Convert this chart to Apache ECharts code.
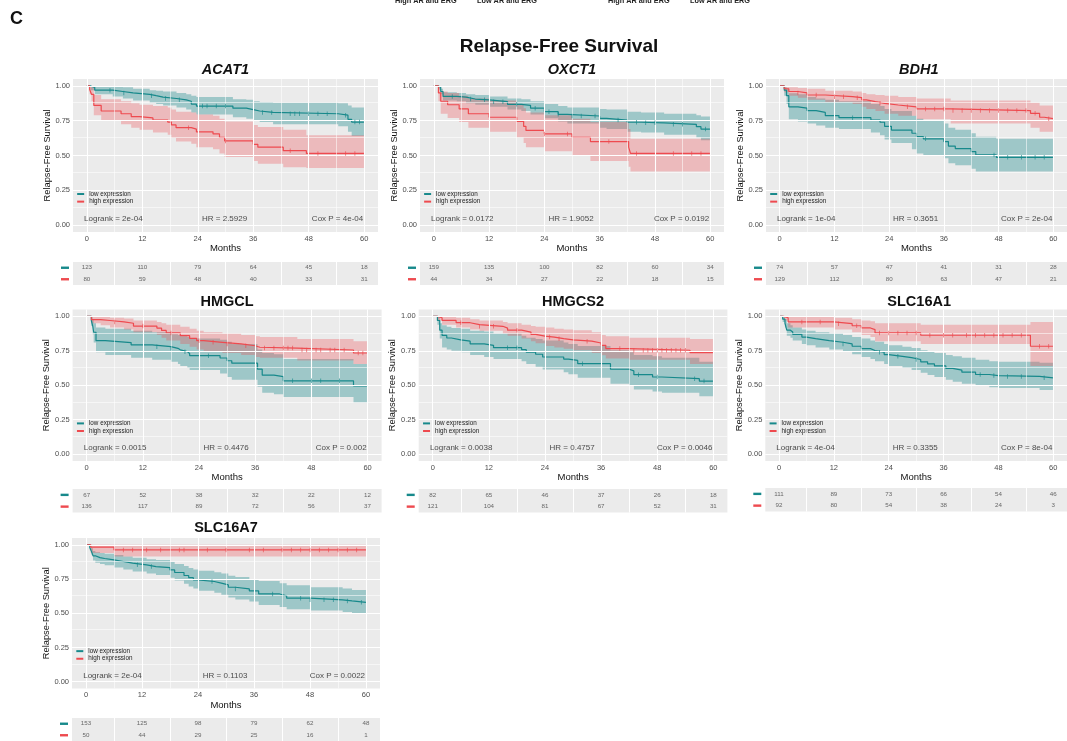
<!DOCTYPE html>
<html><head><meta charset="utf-8">
<script src="https://cdn.jsdelivr.net/npm/echarts@6/dist/echarts.min.js"></script>
<style>html,body{margin:0;padding:0;background:#fff}#c{width:1067px;height:741px}</style>
</head><body><div id="c"></div>
<script>
// ---------------- DATA ----------------
const genes = ['ACAT1','OXCT1','BDH1','HMGCL','HMGCS2','SLC16A1','SLC16A7'];
const italicGenes = ['ACAT1','OXCT1','BDH1'];
const xTicks = [0,12,24,36,48,60];
const xMinor = [6,18,30,42,54];
const yTicks = [0,0.25,0.5,0.75,1];
const yMinor = [0.125,0.375,0.625,0.875];
const groupNames = ['low expression','high expression'];
const topLabels = ['High AR and ERG','Low AR and ERG','High AR and ERG','Low AR and ERG'];

// each step: [month, survival, lower CI, upper CI]
const ACAT1_low = [[0,1,1,1],[0.8,0.99,0.97,1],[1.7,0.97,0.94,1],[5.6,0.96,0.925,0.995],[7.8,0.95,0.91,0.99],[10,0.94,0.895,0.98],[13.6,0.93,0.88,0.97],[15,0.92,0.87,0.965],[16.5,0.91,0.86,0.96],[19.4,0.90,0.845,0.95],[21.5,0.89,0.83,0.94],[22.6,0.87,0.81,0.93],[23.7,0.855,0.795,0.92],[31.6,0.84,0.775,0.905],[34.5,0.83,0.765,0.90],[36,0.82,0.75,0.89],[37.4,0.81,0.74,0.885],[40.3,0.80,0.725,0.88],[54.4,0.79,0.71,0.875],[56.5,0.76,0.67,0.86],[57.3,0.74,0.64,0.845],[60,0.74,0.64,0.845]];
const ACAT1_high = [[0,1,1,1],[0.6,0.975,0.94,1],[1,0.94,0.89,0.99],[1.5,0.86,0.79,0.935],[3.1,0.82,0.75,0.905],[7.4,0.80,0.725,0.89],[9.6,0.78,0.70,0.875],[11.4,0.77,0.685,0.865],[14.3,0.755,0.665,0.855],[17.5,0.74,0.65,0.845],[18.3,0.72,0.625,0.83],[19.3,0.70,0.60,0.815],[22.6,0.69,0.585,0.81],[23.7,0.67,0.56,0.795],[27.3,0.655,0.545,0.785],[28.7,0.63,0.515,0.765],[29.8,0.605,0.49,0.745],[36,0.58,0.46,0.72],[37,0.56,0.44,0.705],[42.5,0.535,0.415,0.685],[47.5,0.515,0.41,0.645],[60,0.515,0.41,0.645]];
const ACAT1_low_cens = [5,8,14,17,20,25,26,28,30,38,40,44,45,46,48,50,52,56,58,59];
const ACAT1_high_cens = [22,30,44,50,56,58];
const ACAT1_risk_low = [123,110,79,64,45,18];
const ACAT1_risk_high = [80,59,48,40,33,31];
const ACAT1_stats = ['Logrank = 2e-04','HR = 2.5929','Cox P = 4e-04'];

const OXCT1_low = [[0,1,1,1],[1,0.99,0.975,1],[1.5,0.96,0.94,0.98],[2,0.925,0.895,0.955],[5,0.92,0.89,0.95],[7,0.906,0.875,0.94],[9,0.90,0.865,0.935],[12,0.887,0.85,0.925],[16,0.868,0.83,0.91],[19,0.86,0.82,0.905],[21,0.84,0.795,0.89],[24,0.815,0.767,0.87],[27,0.796,0.745,0.855],[29,0.784,0.73,0.845],[36,0.767,0.70,0.835],[37.5,0.755,0.69,0.83],[42,0.739,0.67,0.815],[45,0.735,0.665,0.81],[50,0.724,0.65,0.80],[57,0.707,0.63,0.79],[58,0.69,0.61,0.78],[60,0.69,0.61,0.78]];
const OXCT1_high = [[0,1,1,1],[1,0.95,0.89,1],[1.5,0.89,0.80,0.96],[3,0.865,0.77,0.95],[5.5,0.835,0.74,0.93],[7.5,0.80,0.70,0.91],[12,0.775,0.67,0.895],[18,0.746,0.63,0.87],[19.5,0.71,0.59,0.84],[20,0.68,0.56,0.81],[24,0.655,0.53,0.79],[30,0.63,0.50,0.765],[34,0.60,0.46,0.74],[42.3,0.56,0.42,0.69],[42.7,0.515,0.385,0.62],[60,0.515,0.385,0.62]];
const OXCT1_low_cens = [4,8,11,13,15,18,22,25,27,30,32,35,40,44,46,48,52,54,59];
const OXCT1_high_cens = [24,29,38,44,52,56,58];
const OXCT1_risk_low = [159,135,100,82,60,34];
const OXCT1_risk_high = [44,34,27,22,18,15];
const OXCT1_stats = ['Logrank = 0.0172','HR = 1.9052','Cox P = 0.0192'];

const BDH1_low = [[0,1,1,1],[1,0.97,0.93,1],[1.5,0.93,0.87,0.98],[2,0.85,0.76,0.947],[4,0.84,0.745,0.94],[6,0.823,0.73,0.92],[8,0.81,0.715,0.91],[10,0.787,0.70,0.90],[13,0.772,0.69,0.89],[20,0.755,0.665,0.87],[22,0.739,0.645,0.855],[23,0.71,0.615,0.835],[24.5,0.683,0.59,0.82],[29,0.66,0.545,0.785],[30,0.635,0.515,0.765],[31.5,0.62,0.50,0.75],[36,0.60,0.48,0.73],[37,0.568,0.445,0.70],[38.5,0.55,0.43,0.685],[42,0.528,0.405,0.66],[43,0.504,0.385,0.635],[47.5,0.487,0.385,0.62],[60,0.487,0.385,0.62]];
const BDH1_high = [[0,1,1,1],[1,0.98,0.955,1],[2,0.96,0.93,0.99],[4,0.95,0.915,0.985],[6,0.935,0.90,0.98],[10,0.923,0.885,0.965],[16,0.916,0.87,0.96],[18,0.90,0.85,0.95],[19,0.887,0.835,0.94],[21,0.875,0.82,0.935],[23,0.863,0.80,0.93],[26,0.85,0.785,0.92],[30,0.835,0.76,0.91],[37.5,0.823,0.73,0.895],[55,0.803,0.70,0.88],[57,0.775,0.67,0.86],[58,0.765,0.67,0.86],[60,0.765,0.67,0.86]];
const BDH1_low_cens = [16,32,47,50,53,56,58];
const BDH1_high_cens = [4,8,12,14,17,22,28,32,34,36,38,40,42,44,46,48,50,52,54,56,59];
const BDH1_risk_low = [74,57,47,41,31,28];
const BDH1_risk_high = [129,112,80,63,47,21];
const BDH1_stats = ['Logrank = 1e-04','HR = 0.3651','Cox P = 2e-04'];

const HMGCL_low = [[0,1,1,1],[1,0.97,0.93,1],[1.3,0.93,0.87,0.98],[1.5,0.885,0.81,0.95],[2,0.824,0.74,0.92],[4,0.81,0.72,0.91],[9.5,0.793,0.70,0.895],[14,0.78,0.685,0.885],[18,0.768,0.67,0.87],[19.5,0.757,0.655,0.865],[20,0.744,0.64,0.855],[21.5,0.73,0.625,0.85],[22,0.715,0.61,0.84],[28.5,0.698,0.585,0.83],[30,0.678,0.56,0.815],[31,0.66,0.54,0.80],[36.5,0.617,0.49,0.76],[37.5,0.573,0.445,0.735],[40,0.563,0.435,0.725],[42,0.532,0.415,0.69],[57,0.495,0.375,0.655],[60,0.495,0.375,0.655]];
const HMGCL_high = [[0,1,1,1],[1,0.976,0.95,1],[3,0.97,0.935,1],[5,0.96,0.92,0.99],[8,0.95,0.905,0.985],[10,0.93,0.885,0.97],[15,0.915,0.865,0.96],[16,0.898,0.845,0.95],[17,0.88,0.825,0.94],[20,0.86,0.80,0.925],[22,0.84,0.78,0.91],[23.5,0.824,0.76,0.895],[25,0.812,0.745,0.885],[29,0.80,0.735,0.875],[33,0.787,0.72,0.865],[36,0.776,0.705,0.855],[37,0.77,0.70,0.85],[45,0.756,0.68,0.835],[57,0.734,0.655,0.82],[60,0.734,0.655,0.82]];
const HMGCL_low_cens = [15,18,21,26,44,48,50,54];
const HMGCL_high_cens = [6,12,18,24,27,30,34,38,40,42,43,44,46,47,49,50,52,53,55,58,59];
const HMGCL_risk_low = [67,52,38,32,22,12];
const HMGCL_risk_high = [136,117,89,72,56,37];
const HMGCL_stats = ['Logrank = 0.0015','HR = 0.4476','Cox P = 0.002'];

const HMGCS2_low = [[0,1,1,1],[1,0.97,0.94,1],[1.5,0.90,0.84,0.95],[2,0.862,0.775,0.935],[3,0.843,0.76,0.925],[4,0.83,0.75,0.915],[6,0.82,0.74,0.91],[8,0.80,0.72,0.895],[11,0.79,0.705,0.89],[13,0.773,0.69,0.875],[19,0.758,0.675,0.86],[20,0.74,0.655,0.845],[22,0.725,0.635,0.835],[23.5,0.705,0.615,0.825],[28,0.69,0.595,0.81],[29,0.68,0.58,0.80],[31,0.657,0.555,0.785],[38,0.616,0.51,0.755],[42,0.604,0.495,0.74],[43,0.577,0.47,0.72],[47,0.56,0.455,0.71],[49,0.548,0.445,0.70],[57,0.53,0.42,0.67],[60,0.53,0.42,0.67]];
const HMGCS2_high = [[0,1,1,1],[1,0.99,0.97,1],[2,0.971,0.94,1],[5,0.954,0.92,0.99],[8,0.94,0.905,0.98],[10,0.928,0.895,0.97],[15,0.915,0.875,0.96],[16,0.90,0.86,0.95],[19,0.886,0.84,0.94],[21,0.87,0.82,0.93],[22,0.857,0.805,0.925],[24,0.85,0.785,0.92],[26,0.838,0.775,0.91],[28,0.83,0.765,0.905],[30,0.82,0.754,0.90],[34,0.807,0.735,0.885],[36,0.79,0.717,0.865],[37,0.766,0.695,0.855],[42,0.754,0.685,0.845],[55,0.737,0.655,0.835],[60,0.737,0.655,0.835]];
const HMGCS2_low_cens = [16,18,32,44,48,56,58];
const HMGCS2_high_cens = [6,10,13,18,25,27,33,40,43,45,46,47,48,49,50,51,52,53,54];
const HMGCS2_risk_low = [82,65,46,37,26,18];
const HMGCS2_risk_high = [121,104,81,67,52,31];
const HMGCS2_stats = ['Logrank = 0.0038','HR = 0.4757','Cox P = 0.0046'];

const SLC16A1_low = [[0,1,1,1],[0.8,0.98,0.96,1],[1.3,0.95,0.92,0.98],[1.7,0.90,0.86,0.95],[2.5,0.887,0.845,0.935],[3,0.87,0.825,0.92],[5,0.85,0.80,0.905],[6,0.838,0.79,0.895],[8,0.824,0.775,0.885],[11,0.812,0.76,0.875],[14,0.80,0.745,0.865],[16,0.783,0.725,0.85],[18,0.766,0.705,0.84],[20,0.752,0.69,0.825],[21,0.74,0.675,0.815],[23,0.723,0.655,0.80],[24,0.71,0.64,0.79],[27,0.70,0.625,0.78],[29,0.687,0.61,0.77],[31,0.67,0.59,0.755],[32.5,0.655,0.575,0.745],[34,0.64,0.56,0.735],[36.5,0.622,0.54,0.72],[38,0.61,0.525,0.71],[40,0.595,0.51,0.70],[43,0.578,0.495,0.685],[46,0.57,0.485,0.675],[48,0.564,0.48,0.67],[57,0.554,0.465,0.663],[60,0.554,0.465,0.663]];
const SLC16A1_high = [[0,1,1,1],[1,0.99,0.97,1],[2,0.96,0.92,1],[12,0.947,0.905,0.99],[16,0.932,0.885,0.98],[18,0.916,0.865,0.97],[20,0.904,0.85,0.965],[21,0.88,0.82,0.95],[31,0.863,0.80,0.94],[55,0.783,0.64,0.96],[60,0.783,0.64,0.96]];
const SLC16A1_low_cens = [14,22,26,30,44,47,50,53,58];
const SLC16A1_high_cens = [5,9,13,17,22,24,26,28,30,33,36,38,41,43,45,47,49,51,53,57,59];
const SLC16A1_risk_low = [111,89,73,66,54,46];
const SLC16A1_risk_high = [92,80,54,38,24,3];
const SLC16A1_stats = ['Logrank = 4e-04','HR = 0.3355','Cox P = 8e-04'];

const SLC16A7_low = [[0,1,1,1],[0.8,0.98,0.96,1],[1.2,0.95,0.925,0.975],[1.5,0.92,0.885,0.955],[2,0.907,0.87,0.945],[3,0.90,0.86,0.94],[4,0.89,0.85,0.935],[6,0.878,0.835,0.925],[8,0.866,0.82,0.915],[10,0.854,0.805,0.905],[13,0.841,0.79,0.895],[15,0.834,0.78,0.89],[18,0.817,0.76,0.875],[19,0.798,0.74,0.86],[21,0.776,0.715,0.845],[22,0.76,0.695,0.83],[23,0.744,0.68,0.82],[24,0.732,0.665,0.81],[27.5,0.72,0.65,0.80],[29,0.707,0.635,0.79],[30.5,0.69,0.615,0.775],[32,0.678,0.60,0.765],[35,0.663,0.585,0.75],[37,0.641,0.56,0.735],[41.5,0.627,0.545,0.72],[43,0.61,0.53,0.705],[48,0.598,0.52,0.69],[55,0.59,0.51,0.68],[57,0.58,0.50,0.67],[60,0.58,0.50,0.67]];
const SLC16A7_high = [[0,1,1,1],[1,0.983,0.94,1],[6,0.963,0.915,1],[60,0.963,0.915,1]];
const SLC16A7_low_cens = [11,14,27,32,40,46,48,51,53,56,59];
const SLC16A7_high_cens = [8,10,13,16,20,21,26,30,35,38,42,44,46,48,50,52,54,56,58];
const SLC16A7_risk_low = [153,125,98,79,62,48];
const SLC16A7_risk_high = [50,44,29,25,16,1];
const SLC16A7_stats = ['Logrank = 2e-04','HR = 0.1103','Cox P = 0.0022'];

// lookup table built from the arrays above
const DATA = {
  ACAT1:{low:ACAT1_low,high:ACAT1_high,lowC:ACAT1_low_cens,highC:ACAT1_high_cens,rLow:ACAT1_risk_low,rHigh:ACAT1_risk_high,stats:ACAT1_stats},
  OXCT1:{low:OXCT1_low,high:OXCT1_high,lowC:OXCT1_low_cens,highC:OXCT1_high_cens,rLow:OXCT1_risk_low,rHigh:OXCT1_risk_high,stats:OXCT1_stats},
  BDH1:{low:BDH1_low,high:BDH1_high,lowC:BDH1_low_cens,highC:BDH1_high_cens,rLow:BDH1_risk_low,rHigh:BDH1_risk_high,stats:BDH1_stats},
  HMGCL:{low:HMGCL_low,high:HMGCL_high,lowC:HMGCL_low_cens,highC:HMGCL_high_cens,rLow:HMGCL_risk_low,rHigh:HMGCL_risk_high,stats:HMGCL_stats},
  HMGCS2:{low:HMGCS2_low,high:HMGCS2_high,lowC:HMGCS2_low_cens,highC:HMGCS2_high_cens,rLow:HMGCS2_risk_low,rHigh:HMGCS2_risk_high,stats:HMGCS2_stats},
  SLC16A1:{low:SLC16A1_low,high:SLC16A1_high,lowC:SLC16A1_low_cens,highC:SLC16A1_high_cens,rLow:SLC16A1_risk_low,rHigh:SLC16A1_risk_high,stats:SLC16A1_stats},
  SLC16A7:{low:SLC16A7_low,high:SLC16A7_high,lowC:SLC16A7_low_cens,highC:SLC16A7_high_cens,rLow:SLC16A7_risk_low,rHigh:SLC16A7_risk_high,stats:SLC16A7_stats}
};

// ---------------- LAYOUT / STYLE ----------------
const LAYOUT = [
  {left:73,    top:79,    w:305,   h:153,   tTop:262, tH:23,   titleY:70},
  {left:420,   top:79,    w:304,   h:153,   tTop:262, tH:23,   titleY:70},
  {left:766,   top:79,    w:305.5, h:153,   tTop:262, tH:23,   titleY:70},
  {left:72.6,  top:309.5, w:309,   h:151.5, tTop:489, tH:23.5, titleY:301.5},
  {left:418.7, top:309.5, w:308.7, h:151.5, tTop:489, tH:23.5, titleY:301.5},
  {left:765.3, top:309.5, w:307.7, h:151.5, tTop:488, tH:23.5, titleY:301.5},
  {left:72,    top:538,   w:308,   h:150.5, tTop:718, tH:23.5, titleY:527.5}
];
const TEAL = '#17898B', RED = '#EE4A4F';
const TEAL_BAND = 'rgba(23,137,139,0.36)', RED_BAND = 'rgba(238,74,79,0.30)';
const FONT = '"Liberation Sans", Arial, Helvetica, sans-serif';
const PANEL_BG = '#EBEBEB';

function survAt(pts, t){ let s = pts[0][1]; for (const p of pts){ if (p[0] <= t) s = p[1]; else break; } return s; }

function bandSeries(pts, fill, idx){
  return {
    type:'custom', xAxisIndex:idx, yAxisIndex:idx, z:2, silent:true, clip:true, data:[0],
    renderItem:(params, api) => {
      const up = [], lo = [];
      for (let i = 0; i < pts.length; i++){
        const t = pts[i][0], tn = i < pts.length-1 ? pts[i+1][0] : t;
        up.push(api.coord([t, pts[i][3]])); up.push(api.coord([tn, pts[i][3]]));
        lo.push(api.coord([t, pts[i][2]])); lo.push(api.coord([tn, pts[i][2]]));
      }
      return {type:'polygon', shape:{points: up.concat(lo.reverse())}, style:{fill:fill}};
    }
  };
}

function txt(x, y, text, size, weight, style, align, color){
  return {type:'text', x:x, y:y, silent:true, style:{text:text, fontSize:size, fontWeight:weight, fontStyle:style,
    fontFamily:FONT, fill:color || '#111', textAlign:align, align:align, textVerticalAlign:'middle', verticalAlign:'middle'}};
}

const grids = [], xAxes = [], yAxes = [], series = [], legends = [], graphics = [];

graphics.push(txt(10, 19.5, 'C', 18, 'bold', 'normal', 'left'));
graphics.push(txt(559, 47, 'Relapse-Free Survival', 19, 'bold', 'normal', 'center'));
[395, 477, 608, 690].forEach((x, k) => graphics.push(txt(x, 0.5, topLabels[k], 7.3, 'bold', 'normal', 'left', '#222')));

genes.forEach((g, i) => {
  const L = LAYOUT[i], D = DATA[g];
  const gp = grids.length, gt = gp + 1;
  const x0px = L.left + L.w * 3 / 66;
  grids.push({left:L.left, top:L.top, width:L.w, height:L.h, show:true, backgroundColor:PANEL_BG, borderWidth:0});
  grids.push({left:L.left, top:L.tTop, width:L.w, height:L.tH, show:true, backgroundColor:PANEL_BG, borderWidth:0});

  xAxes.push({gridIndex:gp, type:'value', min:-3, max:63,
    axisLine:{show:false},
    axisTick:{show:true, customValues:xTicks, length:2, lineStyle:{color:'#555', width:0.8}},
    axisLabel:{customValues:xTicks, fontSize:7.5, color:'#4D4D4D', margin:2.5, fontFamily:FONT},
    splitLine:{show:false},
    name:'Months', nameLocation:'middle', nameGap:9.5, nameTextStyle:{fontSize:9.5, color:'#111', fontFamily:FONT}});
  xAxes.push({gridIndex:gt, type:'value', min:-3, max:63, show:false, splitLine:{show:false}});

  yAxes.push({gridIndex:gp, type:'value', min:-0.05, max:1.05,
    axisLine:{show:false},
    axisTick:{show:true, customValues:yTicks, length:2, lineStyle:{color:'#555', width:0.8}},
    axisLabel:{customValues:yTicks, fontSize:7.5, color:'#4D4D4D', margin:3, fontFamily:FONT, formatter:v => v.toFixed(2)},
    splitLine:{show:false},
    name:'Relapse-Free Survival', nameLocation:'middle', nameGap:15.5, nameRotate:90,
    nameTextStyle:{fontSize:9.3, color:'#111', fontFamily:FONT}});
  yAxes.push({gridIndex:gt, type:'category', data:['high','low'],
    axisLine:{show:false}, axisTick:{show:false}, splitLine:{show:false},
    axisLabel:{show:true, interval:0, margin:4, formatter:v => '{' + v + '| }',
      rich:{low:{width:8, height:2.4, fontSize:1, lineHeight:2.4, backgroundColor:TEAL},
            high:{width:8, height:2.4, fontSize:1, lineHeight:2.4, backgroundColor:RED}}}});

  // panel grid lines
  const gl = [];
  xTicks.forEach(v => gl.push({xAxis:v, lineStyle:{width:1.1}}));
  xMinor.forEach(v => gl.push({xAxis:v, lineStyle:{width:0.55}}));
  yTicks.forEach(v => gl.push({yAxis:v, lineStyle:{width:1.1}}));
  yMinor.forEach(v => gl.push({yAxis:v, lineStyle:{width:0.55}}));
  series.push({type:'line', xAxisIndex:gp, yAxisIndex:gp, data:[], z:1, silent:true,
    markLine:{silent:true, symbol:['none','none'], label:{show:false}, animation:false,
      lineStyle:{color:'#FFFFFF', type:'solid'}, data:gl}});
  // table grid lines
  series.push({type:'line', xAxisIndex:gt, yAxisIndex:gt, data:[], z:1, silent:true,
    markLine:{silent:true, symbol:['none','none'], label:{show:false}, animation:false,
      lineStyle:{color:'#FFFFFF', type:'solid', width:1}, data:xMinor.map(v => ({xAxis:v}))}});

  // confidence bands
  series.push(bandSeries(D.low, TEAL_BAND, gp));
  series.push(bandSeries(D.high, RED_BAND, gp));

  // survival step curves
  series.push({type:'line', name:groupNames[0], xAxisIndex:gp, yAxisIndex:gp, step:'end', z:4,
    showSymbol:false, symbol:'none', color:TEAL, lineStyle:{width:1.2, color:TEAL},
    data:D.low.map(p => [p[0], p[1]])});
  series.push({type:'line', name:groupNames[1], xAxisIndex:gp, yAxisIndex:gp, step:'end', z:4,
    showSymbol:false, symbol:'none', color:RED, lineStyle:{width:1.2, color:RED},
    data:D.high.map(p => [p[0], p[1]])});

  // censor marks
  series.push({type:'scatter', xAxisIndex:gp, yAxisIndex:gp, z:5, silent:true, symbol:'rect', symbolSize:[0.8,4.5],
    itemStyle:{color:TEAL}, data:D.lowC.map(t => [t, survAt(D.low, t)])});
  series.push({type:'scatter', xAxisIndex:gp, yAxisIndex:gp, z:5, silent:true, symbol:'rect', symbolSize:[0.8,4.5],
    itemStyle:{color:RED}, data:D.highC.map(t => [t, survAt(D.high, t)])});

  // statistics text
  series.push({type:'scatter', xAxisIndex:gp, yAxisIndex:gp, z:6, silent:true, symbolSize:0.1,
    itemStyle:{color:'rgba(0,0,0,0)'},
    label:{show:true, position:'inside', fontSize:8, color:'#222', fontFamily:FONT, verticalAlign:'middle'},
    data:[
      {value:[-0.6, 0.045], label:{formatter:D.stats[0], align:'left'}},
      {value:[29.8, 0.045], label:{formatter:D.stats[1], align:'center'}},
      {value:[59.8, 0.045], label:{formatter:D.stats[2], align:'right'}}
    ]});

  // number at risk table
  series.push({type:'scatter', xAxisIndex:gt, yAxisIndex:gt, z:6, silent:true, symbolSize:0.1,
    itemStyle:{color:'rgba(0,0,0,0)'},
    label:{show:true, position:'inside', fontSize:6.2, color:'#444', fontFamily:FONT, formatter:p => String(p.data.n)},
    data: xTicks.map((x, k) => ({value:[x, 'low'], n:D.rLow[k]}))
      .concat(xTicks.map((x, k) => ({value:[x, 'high'], n:D.rHigh[k]})))});

  // legend inside the panel
  legends.push({data:groupNames, orient:'vertical', left:x0px - 9.7,
    top:L.top + (1.05 - 0.223) / 1.1 * L.h - 3.8,
    itemWidth:7, itemHeight:2, itemGap:0, icon:'rect', padding:0, selectedMode:false,
    textStyle:{fontSize:6.3, lineHeight:7.6, color:'#222', fontFamily:FONT}});

  // panel title
  const it = italicGenes.includes(g);
  graphics.push(txt(L.left + L.w / 2, L.titleY, g, 14.5, 'bold', it ? 'italic' : 'normal', 'center'));
});

const chart = echarts.init(document.getElementById('c'), null, {renderer:'canvas', width:1067, height:741});
chart.setOption({
  backgroundColor:'#FFFFFF',
  animation:false,
  textStyle:{fontFamily:FONT},
  grid:grids, xAxis:xAxes, yAxis:yAxes, legend:legends, series:series, graphic:graphics
});
</script>
</body></html>
